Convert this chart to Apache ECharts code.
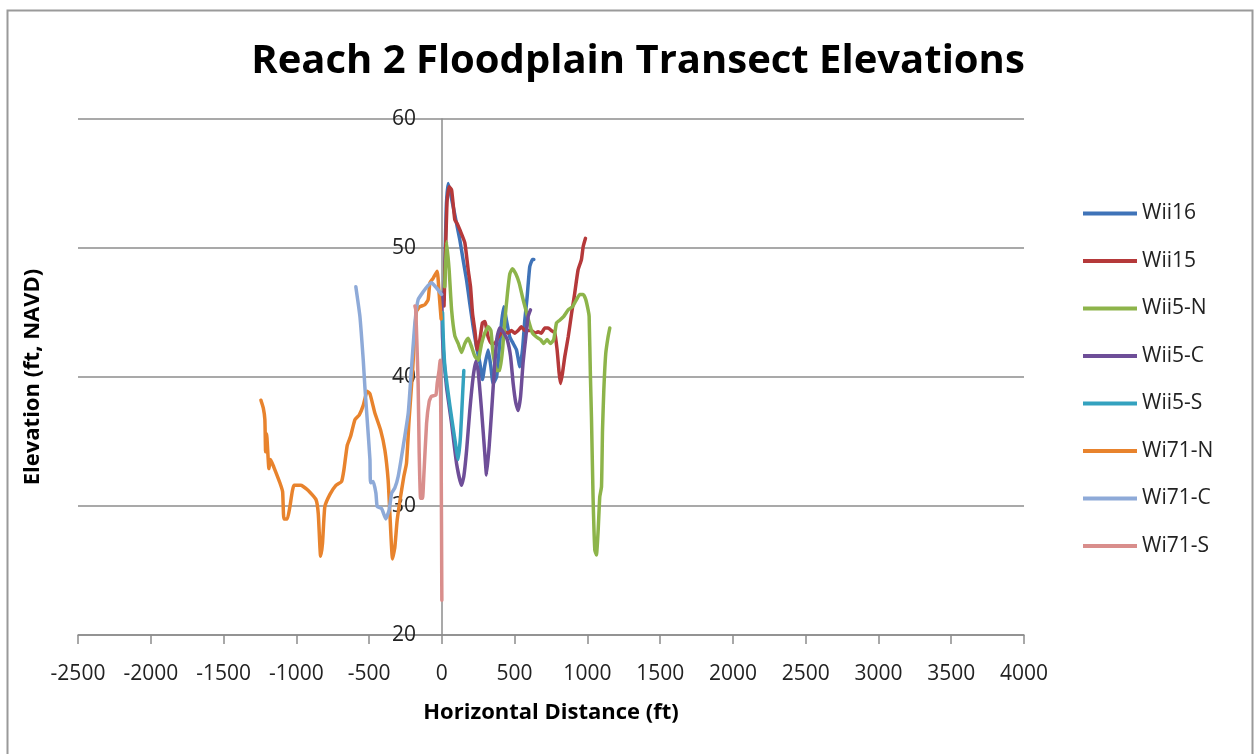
<!DOCTYPE html>
<html>
<head>
<meta charset="utf-8">
<script src="https://cdn.jsdelivr.net/npm/echarts@6/dist/echarts.min.js"></script>
<style>
html,body{margin:0;padding:0;background:#fff;}
#chart{width:1254px;height:754px;}
</style>
</head>
<body>
<div id="chart"></div>
<script>
// ---- data (horizontal distance ft, elevation ft NAVD) ----
const seriesNames = ['Wii16','Wii15','Wii5-N','Wii5-C','Wii5-S','Wi71-N','Wi71-C','Wi71-S'];
const xTicks = [-2500,-2000,-1500,-1000,-500,0,500,1000,1500,2000,2500,3000,3500,4000];
const yTicks = [20,30,40,50,60];

const wii16 = [[15,46],[30,53],[43,55],[78,53.2],[101,51.9],[124,50.6],[146,49.1],[170,47.5],[192,45.7],[215,43.9],[238,42.35],[261,41.1],[279,39.8],[295,40.9],[318,42.1],[337,40.8],[352,39.5],[376,40.0],[394,42.1],[410,44.2],[426,45.45],[444,44.4],[467,43.1],[490,42.6],[513,42.1],[536,40.8],[554,42.1],[570,44.4],[586,46.2],[604,48.55],[623,49.1],[632,49.1]];
const wii15 = [[15,45.5],[35,53.5],[50,54.75],[67,54.5],[89,52.2],[105,51.9],[124,51.4],[158,50.4],[181,48.3],[197,47.0],[211,44.9],[227,43.6],[243,42.1],[261,42.9],[279,44.2],[295,44.3],[318,43.1],[341,42.6],[364,42.6],[387,43.1],[410,43.4],[433,43.5],[455,43.4],[478,43.6],[501,43.4],[524,43.6],[547,43.9],[570,43.6],[593,43.6],[616,43.6],[639,43.4],[661,43.5],[684,43.4],[707,43.8],[730,43.8],[753,43.6],[776,43.4],[792,42.1],[806,40.3],[815,39.5],[829,40.3],[845,41.6],[868,43.1],[891,44.9],[913,46.5],[936,48.3],[959,49.1],[971,50.1],[987,50.75]];
const wii5N = [[20,47],[32,50.5],[50,48.3],[67,45.2],[89,43.2],[112,42.6],[135,41.9],[158,42.6],[181,43.0],[204,42.35],[227,41.6],[249,41.3],[273,42.6],[295,43.4],[318,43.9],[337,43.6],[352,41.8],[376,40.5],[398,40.5],[417,42.1],[433,44.4],[451,46.5],[467,48.0],[485,48.4],[508,48.0],[531,47.3],[554,46.2],[577,45.2],[600,44.2],[623,43.4],[650,43.1],[678,42.9],[700,42.6],[723,42.9],[746,42.6],[769,42.9],[788,44.2],[810,44.4],[838,44.7],[868,45.2],[898,45.45],[925,46.0],[948,46.4],[971,46.4],[989,46.0],[1005,45.2],[1012,44.7],[1021,40.0],[1028,36.9],[1039,30.7],[1051,26.6],[1062,26.2],[1074,28.1],[1085,30.7],[1097,31.5],[1104,35.9],[1113,39.0],[1126,41.8],[1142,43.1],[1154,43.8]];
const wii5C = [[0,46.5],[5,43],[32,39.25],[67,36.4],[101,33.3],[135,31.6],[151,32.3],[170,34.3],[192,37.4],[215,40.0],[233,41.2],[249,40.5],[273,37.4],[295,34.1],[307,32.4],[325,34.6],[341,37.2],[364,41.1],[380,43.1],[398,43.8],[421,43.5],[449,42.9],[472,41.6],[490,39.5],[508,38.0],[524,37.4],[541,38.5],[558,41.1],[577,43.1],[593,44.7],[609,45.2]];
const wii5S = [[5,45],[10,43],[21,40.8],[55,37.8],[89,35.2],[112,33.6],[128,35.4],[142,38.5],[151,40.5]];
const wi71N = [[-1243,38.2],[-1227,37.6],[-1216,36.7],[-1211,34.2],[-1204,35.6],[-1188,32.9],[-1177,33.6],[-1154,33.0],[-1113,31.8],[-1094,31.1],[-1085,29.0],[-1062,29.0],[-1044,29.95],[-1016,31.6],[-970,31.6],[-918,31.2],[-865,30.5],[-849,29.4],[-833,26.1],[-820,27.1],[-804,29.95],[-769,30.9],[-728,31.6],[-689,31.9],[-673,32.8],[-650,34.7],[-627,35.4],[-597,36.7],[-568,37.05],[-540,37.8],[-513,38.9],[-494,38.7],[-460,37.2],[-421,35.9],[-391,34.3],[-369,32.0],[-357,29.4],[-339,25.9],[-323,26.8],[-307,28.9],[-284,30.7],[-261,32.3],[-243,33.3],[-225,36.7],[-201,40.5],[-185,43.6],[-174,45.1],[-151,45.45],[-117,45.6],[-94,46.0],[-82,47.3],[-60,47.65],[-32,48.2],[-19,46.5],[-5,44.5]];
const wi71C = [[-591,47.0],[-563,44.7],[-540,41.3],[-529,39.25],[-513,36.7],[-494,33.6],[-490,31.8],[-472,31.9],[-453,31.0],[-444,29.95],[-414,29.8],[-385,29.0],[-362,29.7],[-345,31.0],[-323,31.4],[-300,32.3],[-266,34.6],[-231,37.2],[-208,40.8],[-185,44.2],[-163,46.0],[-128,46.6],[-94,47.1],[-71,47.3],[-36,46.9],[-2,46.4]];
const wi71S = [[-185,45.5],[-179,45.2],[-163,39.5],[-156,34.3],[-146,30.6],[-133,30.6],[-124,32.3],[-105,36.4],[-87,38.1],[-71,38.5],[-41,38.6],[-32,39.5],[-19,40.5],[-12,41.3],[-5,34.3],[0,22.7]];

const seriesData = [wii16, wii15, wii5N, wii5C, wii5S, wi71N, wi71C, wi71S];
const colors = ['#3F73B8','#B5393A','#8DB44A','#6E4E98','#34A2BF','#E8832D','#8EAAD8','#D98E8C'];

const chart = echarts.init(document.getElementById('chart'));
const FONT = '"Open Sans", "Noto Sans", sans-serif';

chart.setOption({
  backgroundColor: '#ffffff',
  animation: false,
  color: colors,
  title: {
    text: 'Reach 2 Floodplain Transect Elevations',
    left: 633, top: 37, textAlign: 'center',
    textStyle: {fontFamily: FONT, fontSize: 40, fontWeight: 'bold', color: '#000'}
  },
  legend: {
    orient: 'vertical', left: 1078, top: 198,
    itemWidth: 54, itemHeight: 4, itemGap: 26.5, icon: 'rect',
    textStyle: {fontFamily: FONT, fontSize: 21, color: '#222'},
    data: seriesNames
  },
  grid: {left: 78, right: 230, top: 119, bottom: 119, containLabel: false, outerBoundsMode: 'none'},
  xAxis: {
    type: 'value', min: xTicks[0], max: xTicks[xTicks.length-1], interval: 500,
    name: 'Horizontal Distance (ft)', nameLocation: 'middle', nameGap: 67,
    nameTextStyle: {fontFamily: FONT, fontSize: 22, fontWeight: 'bold', color: '#000'},
    axisLine: {onZero: false, lineStyle: {color: '#8c8c8c', width: 1.5}},
    axisTick: {show: true, length: 9, lineStyle: {color: '#8c8c8c', width: 1.5}},
    axisLabel: {fontFamily: FONT, fontSize: 21, color: '#222', margin: 29,
      showMinLabel: true, showMaxLabel: true, hideOverlap: false,
      formatter: v => String(v)},
    splitLine: {show: false}
  },
  yAxis: {
    type: 'value', min: yTicks[0], max: yTicks[yTicks.length-1], interval: 10,
    offset: -364,
    name: 'Elevation (ft, NAVD)', nameLocation: 'middle', nameGap: 398,
    nameTextStyle: {fontFamily: FONT, fontSize: 22, fontWeight: 'bold', color: '#000'},
    axisLine: {show: true, onZero: false, lineStyle: {color: '#8c8c8c', width: 1.5}},
    axisTick: {show: false},
    axisLabel: {fontFamily: FONT, fontSize: 21, color: '#222', margin: 26, formatter: v => String(v)},
    splitLine: {show: true, lineStyle: {color: '#8c8c8c', width: 1.5}}
  },
  graphic: [{
    type: 'rect', left: 5, top: 8, z: 100, silent: true,
    shape: {width: 1245, height: 760},
    style: {fill: 'none', stroke: '#9a9a9a', lineWidth: 2}
  }],
  series: seriesNames.map((n, i) => ({
    name: n, type: 'line', data: seriesData[i],
    showSymbol: false, symbol: 'none', smooth: 0.15,
    lineStyle: {width: 3.5, color: colors[i], cap: 'round', join: 'round'},
    itemStyle: {color: colors[i]}
  }))
});
</script>
</body>
</html>
